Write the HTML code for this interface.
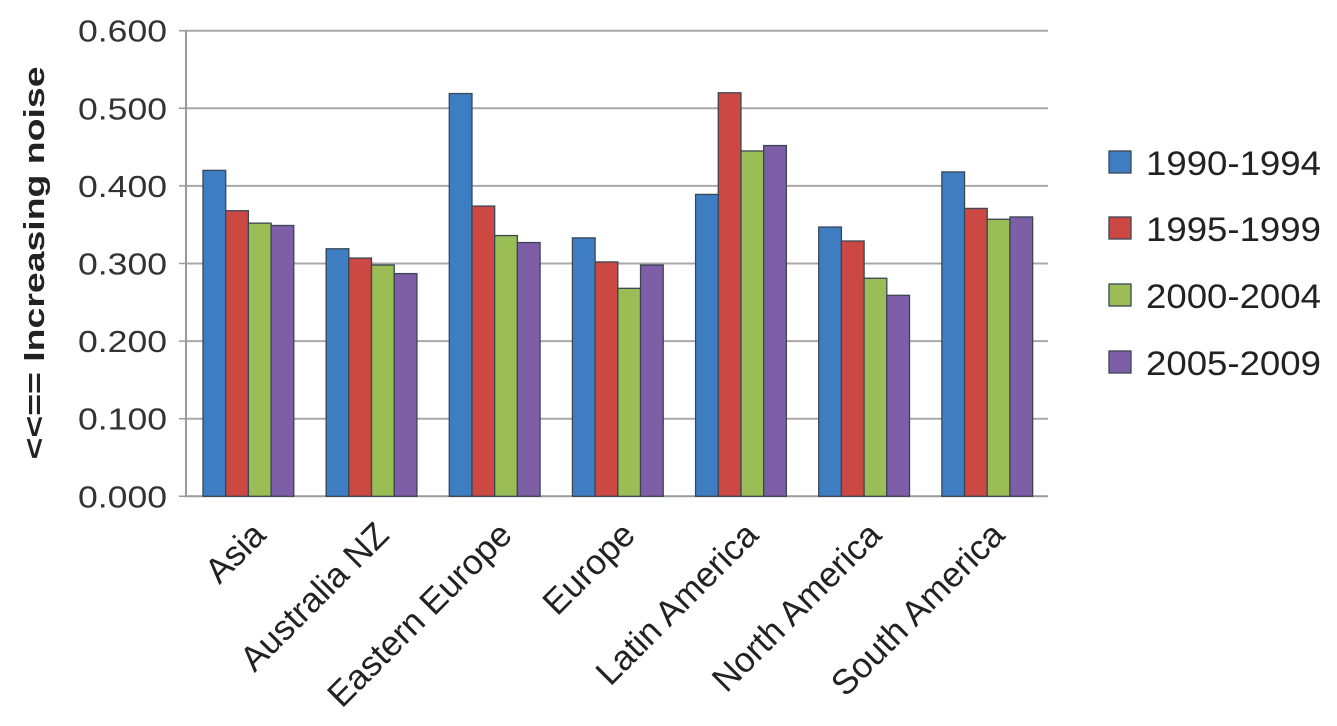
<!DOCTYPE html>
<html><head><meta charset="utf-8"><style>
html,body{margin:0;padding:0;background:#fff;}
svg{display:block;font-family:"Liberation Sans",Arial,sans-serif;}
</style></head><body>
<svg id="chart" width="1337" height="726" viewBox="0 0 1337 726" xmlns="http://www.w3.org/2000/svg"></svg>
<script>
const categories = ["Asia","Australia NZ","Eastern Europe","Europe","Latin America","North America","South America"];
const seriesNames = ["1990-1994","1995-1999","2000-2004","2005-2009"];
const s1990 = [0.420,0.319,0.519,0.333,0.389,0.347,0.418];
const s1995 = [0.368,0.307,0.374,0.302,0.520,0.329,0.371];
const s2000 = [0.352,0.298,0.336,0.268,0.445,0.281,0.357];
const s2005 = [0.349,0.287,0.327,0.298,0.452,0.259,0.360];
const yTicks = [0,0.1,0.2,0.3,0.4,0.5,0.6];
const yTickLabels = ["0.000","0.100","0.200","0.300","0.400","0.500","0.600"];

const series = [s1990,s1995,s2000,s2005];
const colors = ["#3f7dc2","#cc4943","#9bbd56","#7e5ea7"];
const NS = "http://www.w3.org/2000/svg";
const svg = document.getElementById('chart');
const L = 186, R = 1048, B = 496.3, T = 30.7, yMax = 0.6;
const pitch = (R - L) / categories.length;
const barW = 22.7, groupOff = 17;
function y(v){ return B - (v / yMax) * (B - T); }
function xg(i){ return L + i * pitch; }
function mk(tag, attrs, parent){
  const e = document.createElementNS(NS, tag);
  for (const k in attrs) e.setAttribute(k, attrs[k]);
  (parent || svg).appendChild(e);
  return e;
}
yTicks.forEach((t, i) => {
  const g = mk('line', {x1:L, x2:R, y1:y(t), y2:y(t), stroke: i===0 ? '#9a9a9a' : '#a8a8a8', 'stroke-width':2});
  
  
  const tl = mk('line', {x1:L-7, x2:L, y1:y(t), y2:y(t), stroke:'#999', 'stroke-width':1.5});
  
  
  const tx = mk('text', {x:167, y:y(t)+11, 'text-anchor':'end', 'font-size':31, fill:'#333', textLength:89, lengthAdjust:'spacingAndGlyphs'});
  tx.textContent = yTickLabels[i];
  
  
});
const ax = mk('line', {x1:L, x2:L, y1:T, y2:B+1, stroke:'#9a9a9a', 'stroke-width':2});


categories.forEach((c, i) => {
  series.forEach((s, j) => {
    const x0 = xg(i) + groupOff + j * barW;
    const r = mk('rect', {x:x0, y:y(s[i]), width:barW, height:B - y(s[i]), fill:colors[j], stroke:'#3a4654', 'stroke-width':1.3});
    
    
  });
  const cx = xg(i) + pitch / 2 + 20, cy = 537;
  const lt = mk('text', {x:cx, y:cy, 'text-anchor':'end', 'font-size':35, fill:'#222', transform:'rotate(-45 ' + cx + ' ' + cy + ')'});
  lt.textContent = c;
  
  
});
const yt = mk('text', {x:0, y:0, 'text-anchor':'middle', 'font-size':29, 'font-weight':'bold', fill:'#222', transform:'translate(44 263) rotate(-90)', textLength:393, lengthAdjust:'spacingAndGlyphs'});
yt.textContent = "<<== Increasing noise";


const legendY = [162, 228, 295, 362];
seriesNames.forEach((n, j) => {
  const g = mk('g', {});
  
  
  mk('rect', {x:1109, y:legendY[j]-11, width:22, height:22, fill:colors[j], stroke:'#3a4654', 'stroke-width':1.3}, g);
  const t = mk('text', {x:1146, y:legendY[j]+13, 'font-size':34, fill:'#222', textLength:175, lengthAdjust:'spacingAndGlyphs'}, g);
  t.textContent = n;
});
</script>
</body></html>
